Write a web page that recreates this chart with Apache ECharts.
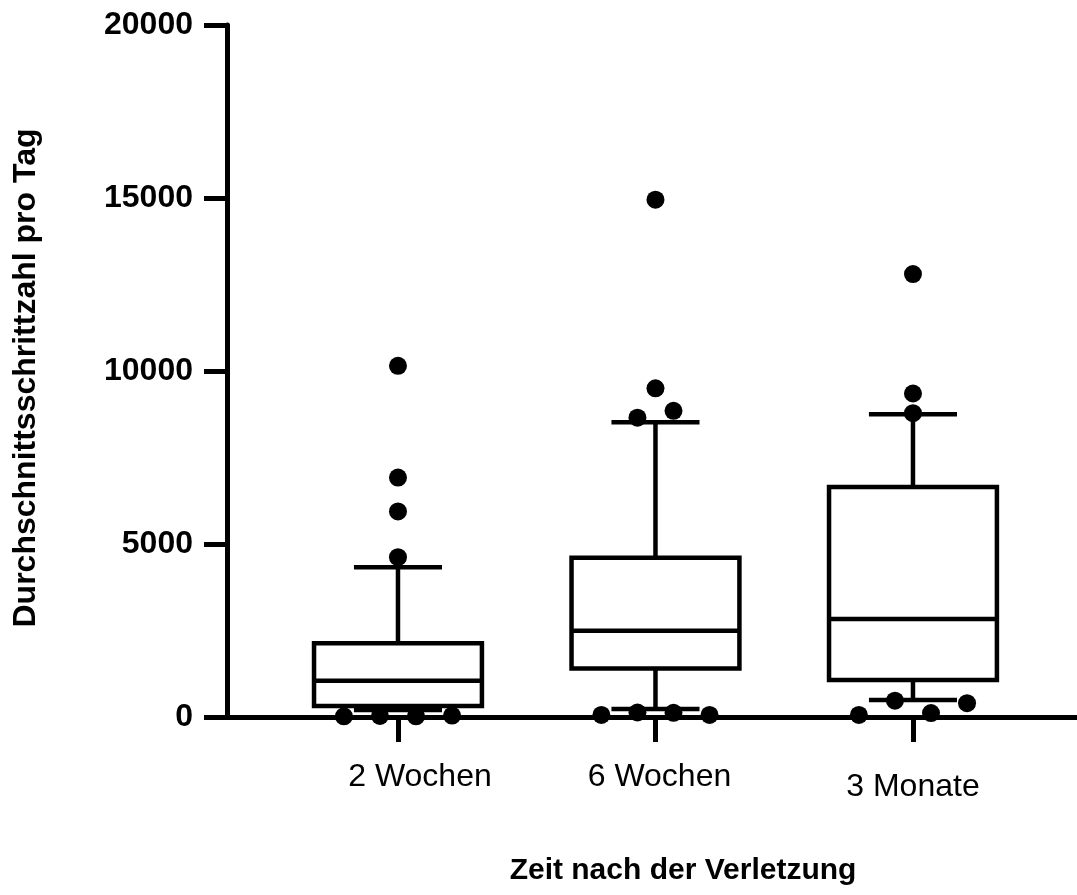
<!DOCTYPE html>
<html><head><meta charset="utf-8">
<script src="https://cdn.jsdelivr.net/npm/echarts@6/dist/echarts.min.js"></script>
<style>html,body{margin:0;padding:0;background:#fff}#c{width:1077px;height:895px}</style>
</head><body><div id="c"></div>
<script>
// ---- data ----
const categories = ['2 Wochen', '6 Wochen', '3 Monate'];
const whiskerLow = [200, 230, 490];
const q1 = [320, 1400, 1070];
const median = [1050, 2490, 2830];
const q3 = [2130, 4600, 6650];
const whiskerHigh = [4330, 8520, 8750];
// individual points: group index, value, horizontal jitter (in category units)
const pointsGroup = [0, 0, 0, 0, 0, 0, 0, 0, 1, 1, 1, 1, 1, 1, 1, 1, 2, 2, 2, 2, 2, 2, 2];
const pointsValue = [10150, 6920, 5940, 4620, 20, 30, 20, 40,
                     14950, 9500, 8850, 8650, 60, 130, 120, 60,
                     12800, 9350, 8780, 470, 400, 60, 115];
const pointsJitter = [0, 0, 0, 0, -0.21, -0.07, 0.07, 0.21,
                      0, 0, 0.07, -0.07, -0.21, -0.07, 0.07, 0.21,
                      0, 0, 0, -0.07, 0.21, -0.21, 0.07];
const yMin = 0, yMax = 20000, yStep = 5000;
const yTitle = 'Durchschnittsschrittzahl pro Tag';
const xTitle = 'Zeit nach der Verletzung';

// ---- build ----
const boxData = categories.map((c, i) => [i, whiskerLow[i], q1[i], median[i], q3[i], whiskerHigh[i]]);
const pointData = pointsValue.map((v, k) => [pointsGroup[k] + pointsJitter[k], v]);
const BOX_W = 0.652, CAP_W = 0.342;
const FONT = "'Liberation Sans', Arial, Helvetica, sans-serif";
const labelKeys = ['a', 'b', 'c'];

const chart = echarts.init(document.getElementById('c'), null, {renderer: 'canvas'});
chart.setOption({
  backgroundColor: '#ffffff',
  animation: false,
  grid: {left: 227, right: 0, top: 25, bottom: 178, containLabel: false},
  xAxis: {
    type: 'value', min: -0.664, max: 2.637,
    axisLine: {show: true, onZero: false, lineStyle: {color: '#000', width: 5}},
    axisTick: {show: true, customValues: [0, 1, 2], length: 25, lineStyle: {color: '#000', width: 5}},
    axisLabel: {
      show: true, customValues: [0, 1, 2], margin: 44,
      formatter: function (v) { const i = Math.round(v); return '{' + labelKeys[i] + '|' + categories[i] + '}'; },
      rich: {
        a: {fontFamily: FONT, fontSize: 32, color: '#000', padding: [0, 0, 0, 44]},
        b: {fontFamily: FONT, fontSize: 32, color: '#000', padding: [0, 0, 0, 8]},
        c: {fontFamily: FONT, fontSize: 32, color: '#000', padding: [10, 0, 0, 0]}
      }
    },
    splitLine: {show: false},
    name: xTitle, nameLocation: 'middle', nameGap: 139,
    nameTextStyle: {fontFamily: FONT, fontSize: 30, fontWeight: 'bold', color: '#000', padding: [0, 0, 0, 62]}
  },
  yAxis: {
    type: 'value', min: yMin, max: yMax, interval: yStep,
    axisLine: {show: true, onZero: false, lineStyle: {color: '#000', width: 5}},
    axisTick: {show: true, length: 23, lineStyle: {color: '#000', width: 5}},
    axisLabel: {fontFamily: FONT, fontSize: 32, fontWeight: 'bold', color: '#000', margin: 34,
      formatter: function (v) { return String(v); }},
    splitLine: {show: false},
    name: yTitle, nameLocation: 'middle', nameGap: 185, nameRotate: 90,
    nameTextStyle: {fontFamily: FONT, fontSize: 32, fontWeight: 'bold', color: '#000', padding: [0, 14, 0, 0]}
  },
  series: [
    {
      type: 'custom', z: 2,
      encode: {x: 0, y: [1, 2, 3, 4, 5]},
      data: boxData,
      renderItem: function (params, api) {
        const x = api.value(0);
        const pMin = api.coord([x, api.value(1)]);
        const pQ1 = api.coord([x, api.value(2)]);
        const pMed = api.coord([x, api.value(3)]);
        const pQ3 = api.coord([x, api.value(4)]);
        const pMax = api.coord([x, api.value(5)]);
        const half = api.size([BOX_W, 0])[0] / 2;
        const cap = api.size([CAP_W, 0])[0] / 2;
        const st = {stroke: '#000', lineWidth: 4.5, fill: null};
        return {type: 'group', children: [
          {type: 'line', shape: {x1: pQ3[0], y1: pQ3[1], x2: pMax[0], y2: pMax[1]}, style: st},
          {type: 'line', shape: {x1: pQ1[0], y1: pQ1[1], x2: pMin[0], y2: pMin[1]}, style: st},
          {type: 'line', shape: {x1: pMax[0] - cap, y1: pMax[1], x2: pMax[0] + cap, y2: pMax[1]}, style: st},
          {type: 'line', shape: {x1: pMin[0] - cap, y1: pMin[1], x2: pMin[0] + cap, y2: pMin[1]}, style: st},
          {type: 'rect', shape: {x: pQ3[0] - half, y: pQ3[1], width: half * 2, height: pQ1[1] - pQ3[1]},
            style: {fill: '#fff', stroke: '#000', lineWidth: 4.5}},
          {type: 'line', shape: {x1: pMed[0] - half, y1: pMed[1], x2: pMed[0] + half, y2: pMed[1]}, style: st}
        ]};
      }
    },
    {
      type: 'scatter', z: 3,
      data: pointData,
      symbol: 'circle', symbolSize: 18,
      itemStyle: {color: '#000', opacity: 1}
    }
  ]
});
</script>
</body></html>
